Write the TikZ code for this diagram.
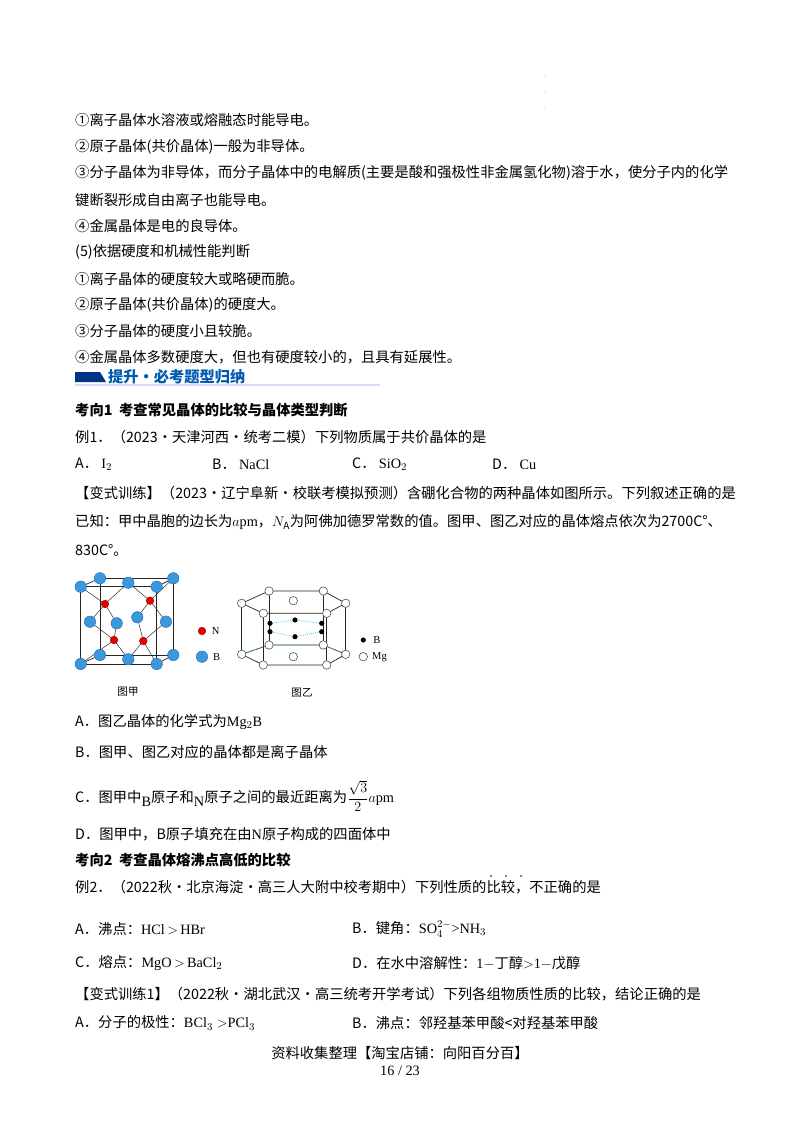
\documentclass[tikz,border=0pt]{standalone}
\usepackage{fontspec}
\setmainfont{Noto Sans CJK SC}
\newfontfamily\tm{Liberation Serif}
\begin{document}
\begin{tikzpicture}[x=0.03cm,y=-0.03cm,
 t/.style={anchor=west,inner sep=0pt,font=\fontsize{12.2}{14}\selectfont},
 bt/.style={t,font=\fontsize{12.2}{14}\selectfont\bfseries},
 ed/.style={line width=0.6pt,black!85},
 Bat/.style={fill=cyan!70!blue!80,draw=cyan!40!blue,line width=0.3pt},
 Nat/.style={fill=red!90!black,draw=red!60!black,line width=0.3pt},
 mg/.style={fill=white,draw=black!70,line width=0.5pt},
 bb/.style={fill=black},
 lg/.style={font=\fontsize{9}{10}\selectfont\tm},
 dl/.style={cyan!70,densely dotted,line width=0.7pt}]
\path[use as bounding box,fill=white] (0,0) rectangle (800,1132);
\foreach \yy in {76,92,107} \fill[black!60] (545,\yy) circle (0.4pt);
\node[t] (l1) at (75,120) {①离子晶体水溶液或熔融态时能导电。};
\node[t] (l2) at (75,147) {②原子晶体(共价晶体)一般为非导体。};
\node[t] (l3) at (75,173) {③分子晶体为非导体，而分子晶体中的电解质(主要是酸和强极性非金属氢化物)溶于水，使分子内的化学};
\node[t] (l4) at (75,200) {键断裂形成自由离子也能导电。};
\node[t] (l5) at (75,226) {④金属晶体是电的良导体。};
\node[t] (l6) at (75,252) {(5)依据硬度和机械性能判断};
\node[t] (l7) at (75,279) {①离子晶体的硬度较大或略硬而脆。};
\node[t] (l8) at (75,305) {②原子晶体(共价晶体)的硬度大。};
\node[t] (l9) at (75,331) {③分子晶体的硬度小且较脆。};
\node[t] (l10) at (75,357) {④金属晶体多数硬度大，但也有硬度较小的，且具有延展性。};
% banner
\fill[blue!40!black!80!cyan] (75,372) -- (100,372) -- (106,382) -- (75,382) -- cycle;
\draw[blue!15,line width=1.2pt] (75,385) -- (380,385);
\node[anchor=west,inner sep=0pt,text=blue!50!cyan!70!black,font=\fontsize{13}{14}\selectfont\bfseries] (ban) at (108,377) {提升·必考题型归纳};
\node[bt] (k1) at (75,410) {考向1\ \ 考查常见晶体的比较与晶体类型判断};
\node[t] (e1) at (75,437) {例1．（2023·天津河西·统考二模）下列物质属于共价晶体的是};
\node[t] (a1) at (75,464) {A．\ {\tm I$_2$}};
\node[t] (b1) at (212,464) {B．\ {\tm NaCl}};
\node[t] (c1) at (352,464) {C．\ {\tm SiO$_2$}};
\node[t] (d1) at (492,464) {D．\ {\tm Cu}};
\node[t] (v1) at (75,493) {【变式训练】（2023·辽宁阜新·校联考模拟预测）含硼化合物的两种晶体如图所示。下列叙述正确的是};
\node[t] (v2) at (75,522) {已知：甲中晶胞的边长为{\tm $a$pm}，{\tm $N_{\rm A}$}为阿佛加德罗常数的值。图甲、图乙对应的晶体熔点依次为2700C°、};
\node[t] (v3) at (75,550) {830C°。};
% ---- figure jia
\coordinate (f1) at (80.7,586.7); \coordinate (f2) at (156.7,586.7);
\coordinate (f3) at (156.7,664); \coordinate (f4) at (80.7,664);
\coordinate (k1b) at (100,578.3); \coordinate (k2) at (173.3,578.3);
\coordinate (k3) at (173.3,655); \coordinate (k4) at (100,655);
\coordinate (ct) at (128.3,582.7); \coordinate (cb) at (128.3,659.3);
\coordinate (cl) at (90,621.7); \coordinate (cr) at (166,621.7);
\coordinate (ck) at (137.3,617.3); \coordinate (cf) at (116.7,623.3);
\coordinate (n1) at (105,604); \coordinate (n2) at (150,600.7);
\coordinate (n3) at (114,640); \coordinate (n4) at (143.3,641);
\draw[ed] (k1b)--(k2)--(k3)--(k4)--cycle;
\draw[ed] (f1)--(f2)--(f3)--(f4)--cycle;
\draw[ed] (f1)--(k1b) (f2)--(k2) (f3)--(k3) (f4)--(k4);
\draw[ed,line width=0.4pt] (n1)--(f1) (n1)--(ct) (n1)--(cl) (n1)--(cf)
 (n2)--(ct) (n2)--(k2) (n2)--(ck) (n2)--(cr)
 (n3)--(cl) (n3)--(cf) (n3)--(f4) (n3)--(cb)
 (n4)--(ck) (n4)--(cr) (n4)--(cb) (n4)--(f3);
\foreach \p in {k1b,k2,k3,k4,ct,cb,cl,cr,ck,cf,f1,f2,f3,f4} \filldraw[Bat] (\p) circle (4.9pt);
\foreach \p in {n1,n2,n3,n4} \filldraw[Nat] (\p) circle (3.3pt);
\filldraw[Nat] (202,631) circle (3.3pt) node[right=5pt,lg] (lN) {N};
\filldraw[Bat] (202,656.7) circle (4.9pt) node[right=6pt,lg] (lB) {B};
\node[font=\fontsize{9}{10}\selectfont] (capj) at (128,692) {图甲};
% ---- figure yi
\coordinate (t1) at (241.7,603.3); \coordinate (t2) at (269,591); \coordinate (t3) at (323.3,591);
\coordinate (t4) at (345.7,603.3); \coordinate (t5) at (326.7,613.3); \coordinate (t6) at (263.3,613.3);
\coordinate (u1) at (241.7,654.3); \coordinate (u2) at (269,645); \coordinate (u3) at (323.3,645);
\coordinate (u4) at (345.7,654.3); \coordinate (u5) at (326.7,665); \coordinate (u6) at (263.3,665);
\draw[ed] (t1)--(t2)--(t3)--(t4)--(t5)--(t6)--cycle;
\draw[ed] (u1)--(u2)--(u3)--(u4)--(u5)--(u6)--cycle;
\foreach \i in {1,...,6} \draw[ed] (t\i)--(u\i);
\coordinate (b1) at (270,623.3); \coordinate (b2) at (270,631.7);
\coordinate (b3) at (295,620); \coordinate (b4) at (295,636.7);
\coordinate (b5) at (321.7,623.3); \coordinate (b6) at (321.7,631.7);
\draw[dl] (b1)--(b3)--(b5) (b2)--(b4)--(b6);
\draw[dl] (u1)--(u2)--(u3)--(u4);
\foreach \p in {t1,t2,t3,t4,t5,t6,u1,u2,u3,u4,u5,u6} \filldraw[mg] (\p) circle (3.6pt);
\filldraw[mg] (293.3,600.7) circle (3.6pt) coordinate (tc);
\filldraw[mg] (293.3,656.7) circle (3.6pt) coordinate (bc);
\foreach \p in {b1,b2,b3,b4,b5,b6} \fill[bb] (\p) circle (2.2pt);
\fill[bb] (363.3,640) circle (2.2pt) node[right=5pt,lg] (lB2) {B};
\filldraw[mg] (363.3,656.7) circle (3.6pt) node[right=4pt,lg] (lM) {Mg};
\node[font=\fontsize{9}{10}\selectfont] (capy) at (302,693) {图乙};
% options
\node[t] (oa) at (75,722) {A．图乙晶体的化学式为{\tm Mg$_2$B}};
\node[t] (ob) at (75,752) {B．图甲、图乙对应的晶体都是离子晶体};
\node[t] (oc) at (75,796) {C．图甲中{\raisebox{-4pt}{\tm B}}原子和{\raisebox{-4pt}{\tm N}}原子之间的最近距离为{\tm $\displaystyle\frac{\sqrt{3}}{2}a$pm}};
\node[t] (od) at (75,834) {D．图甲中，B原子填充在由{\tm N}原子构成的四面体中};
\node[bt] (k2t) at (75,860) {考向2\ \ 考查晶体熔沸点高低的比较};
\node[t] (e2) at (75,887) {例2．（2022秋·北京海淀·高三人大附中校考期中）下列性质的比较，\raisebox{0pt}{不正确}的是};
\foreach \xx in {491,506,521} \fill (\xx,876) circle (0.7pt);
\node[t] (a2) at (75,929) {A．沸点：{\tm HCl$\,>\,$HBr}};
\node[t] (b2) at (352,929) {B．键角：{\tm SO$_4^{2-}$>NH$_3$}};
\node[t] (c2) at (75,963) {C．熔点：{\tm MgO$\,>\,$BaCl$_2$}};
\node[t] (d2) at (352,963) {D．在水中溶解性：{\tm 1$-$}丁醇{\tm $>$1$-$}戊醇};
\node[t] (v4) at (75,994) {【变式训练1】（2022秋·湖北武汉·高三统考开学考试）下列各组物质性质的比较，结论正确的是};
\node[t] (a3) at (75,1023) {A．分子的极性：{\tm BCl$_3>$PCl$_3$}};
\node[t] (b3) at (352,1023) {B．沸点：邻羟基苯甲酸<对羟基苯甲酸};
\node[font=\fontsize{12.2}{14}\selectfont,inner sep=0pt] (ft) at (400,1053) {资料收集整理【淘宝店铺：向阳百分百】};
\node[font=\fontsize{12.2}{14}\selectfont\tm,inner sep=0pt] (pg) at (400,1071) {16 / 23};
\end{tikzpicture}
\end{document}
